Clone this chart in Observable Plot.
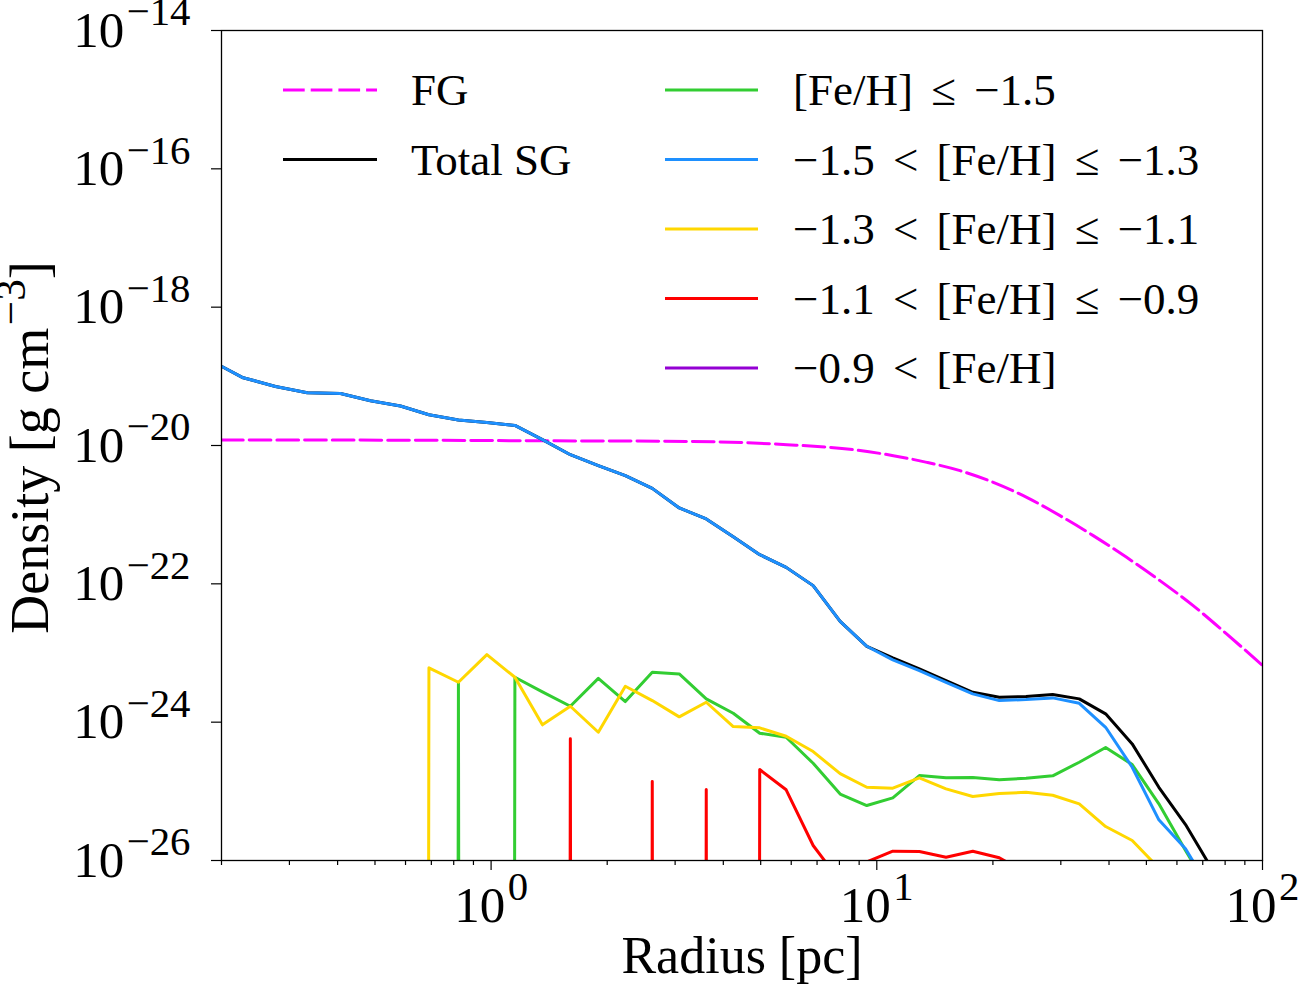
<!DOCTYPE html>
<html>
<head>
<meta charset="utf-8">
<script src="https://cdn.jsdelivr.net/npm/d3@7"></script>
<script src="https://cdn.jsdelivr.net/npm/@observablehq/plot@0.6"></script>
<style>
  body { margin: 0; background: #fff; }
</style>
</head>
<body>
<div id="chart"></div>
<script>
// radius grid of the SG profiles [pc]
const radius = [0.201, 0.2264, 0.2761, 0.3337, 0.407, 0.4867, 0.5821, 0.69, 0.8228, 0.9752,
  1.1527, 1.3584, 1.605, 1.8967, 2.2285, 2.6173, 3.0748, 3.6127, 4.2443, 4.9712,
  5.821, 6.8391, 8.0353, 9.4214, 11.003, 12.894, 15.118, 17.735, 20.782, 24.37,
  28.58, 33.49, 39.2, 45.94, 53.86, 63.16, 73.9];

// log10 density [g cm^-3], null = empty bin (zero density)
const logTotal = [-18.861, -19.016, -19.146, -19.237, -19.247, -19.353, -19.429, -19.555, -19.631, -19.666,
  -19.71, -19.916, -20.133, -20.292, -20.436, -20.62, -20.903, -21.062, -21.318, -21.578,
  -21.762, -22.026, -22.542, -22.903, -23.07, -23.23, -23.399, -23.568, -23.64, -23.63,
  -23.601, -23.663, -23.88, -24.314, -24.941, -25.48, -26.12];
const logFe15 = [null, null, null, null, null, null, null, null, -23.423, null,
  -23.351, -23.562, -23.77, -23.366, -23.702, -23.279, -23.302, -23.663, -23.871, -24.16,
  -24.218, -24.594, -25.04, -25.205, -25.094, -24.772, -24.805, -24.801, -24.834, -24.811,
  -24.776, -24.579, -24.367, -24.613, -25.181, -25.855, -26.49];
const logFe13 = [-18.861, -19.016, -19.146, -19.237, -19.247, -19.353, -19.429, -19.555, -19.631, -19.666,
  -19.71, -19.916, -20.133, -20.292, -20.436, -20.62, -20.903, -21.062, -21.318, -21.578,
  -21.762, -22.026, -22.542, -22.903, -23.1, -23.254, -23.423, -23.591, -23.688, -23.673,
  -23.649, -23.727, -24.074, -24.652, -25.412, -25.831, -26.46];
const logFe11 = [null, null, null, null, null, null, null, -23.215, -23.423, -23.023,
  -23.351, -24.039, -23.77, -24.146, -23.481, -23.688, -23.923, -23.712, -24.064, -24.082,
  -24.204, -24.425, -24.745, -24.941, -24.955, -24.805, -24.964, -25.075, -25.032, -25.013,
  -25.056, -25.181, -25.509, -25.711, -26.11, null, null];
const logFe09 = [null, null, null, null, null, null, null, null, null, null,
  null, null, -24.241, null, null, -24.858, null, -24.974, null, -24.685,
  -24.978, -25.783, -26.3, -26.02, -25.866, -25.87, -25.952, -25.866, -25.961, -26.18,
  null, null, null, null, null, null, null];
const logFeHigh = [null, null, null, null, null, null, null, null, null, null,
  null, null, null, null, null, null, null, null, null, null,
  null, null, null, null, null, null, null, null, null, null,
  null, null, null, null, null, null, null];

// first generation profile
const fgRadius = [0.2, 0.58, 1.19, 3.22, 5.85, 8.7, 11.04, 13.48, 16.44, 20.05, 24.47, 29.85, 36.4, 44.43, 54.2, 66.1, 80.7, 100];
const fgLog = [-19.921, -19.923, -19.931, -19.941, -19.988, -20.061, -20.147, -20.244, -20.364, -20.533,
  -20.75, -21.014, -21.303, -21.617, -21.954, -22.315, -22.724, -23.18];

const xMajor = [1, 10, 100];
const xMinor = [0.2, 0.3, 0.4, 0.5, 0.6, 0.7, 0.8, 0.9, 2, 3, 4, 5, 6, 7, 8, 9, 20, 30, 40, 50, 60, 70, 80, 90];
const yMajor = [1e-26, 1e-24, 1e-22, 1e-20, 1e-18, 1e-16, 1e-14];

const fg = {label: "FG", color: "#ff00ff", dash: "21.7,6"};
const total = {label: "Total SG", color: "#000000", values: logTotal};
const bins = [
  {label: "[Fe/H] ≤ −1.5", color: "#32cd32", values: logFe15},
  {label: "−1.5 < [Fe/H] ≤ −1.3", color: "#1e90ff", values: logFe13},
  {label: "−1.3 < [Fe/H] ≤ −1.1", color: "#ffd700", values: logFe11},
  {label: "−1.1 < [Fe/H] ≤ −0.9", color: "#ff0000", values: logFe09},
  {label: "−0.9 < [Fe/H]", color: "#9400d3", values: logFeHigh}
];

// zero density is pushed far below the axis, like a clipped log axis
const toRho = v => v == null ? 1e-300 : 10 ** v;
const rowsOf = s => radius.map((r, i) => ({r, rho: toRho(s.values[i])}));
const fgRows = fgRadius.map((r, i) => ({r, rho: 10 ** fgLog[i]}));

const minus = n => String(n).replace("-", "\u2212");
const serif = "'Liberation Serif', 'Times New Roman', serif";

const chart = Plot.plot({
  width: 1300,
  height: 1000,
  marginLeft: 221,
  marginRight: 38,
  marginTop: 30,
  marginBottom: 140,
  style: {fontFamily: serif, background: "white", color: "black"},
  x: {type: "log", domain: [0.2, 100], label: null},
  y: {type: "log", domain: [1e-26, 1e-14], label: null},
  marks: [
    Plot.line(fgRows, {x: "r", y: "rho", stroke: fg.color, strokeWidth: 3, strokeDasharray: fg.dash, curve: "monotone-x", clip: true}),
    ...[total, ...bins].map(s =>
      Plot.line(rowsOf(s), {x: "r", y: "rho", stroke: s.color, strokeWidth: 3, clip: true})
    ),
    Plot.frame({stroke: "black", strokeWidth: 1.3}),
    Plot.axisX({ticks: xMinor, tickSize: 5, strokeWidth: 1.2, tickFormat: () => "", label: null}),
    Plot.axisX({ticks: xMajor, tickSize: 10, tickPadding: 15, strokeWidth: 1.2, fontSize: 51,
      tickFormat: d => `10^{${minus(Math.round(Math.log10(d)))}}`, label: null}),
    Plot.axisY({ticks: yMajor, tickSize: 10, tickPadding: 21, strokeWidth: 1.2, fontSize: 51,
      tickFormat: d => `10^{${minus(Math.round(Math.log10(d)))}}`, label: null}),
    Plot.text(["Radius [pc]"], {frameAnchor: "bottom", lineAnchor: "middle", dy: 96, fontSize: 52, text: d => d}),
    Plot.text(["Density [g cm^{\u22123}]"], {frameAnchor: "left", lineAnchor: "middle", textAnchor: "middle",
      rotate: -90, dx: -191, dy: 2, fontSize: 54, text: d => d})
  ]
});

document.getElementById("chart").append(chart);

// turn "a^{b}" into a raised tspan
function supify(node) {
  const s = node.textContent;
  if (!s.includes("^{")) return;
  const size = parseFloat(getComputedStyle(node).fontSize);
  const rise = 0.42 * size;
  const parts = s.split(/\^\{([^}]*)\}/);
  const t = d3.select(node).text(null);
  let up = false;
  parts.forEach((p, i) => {
    if (p === "") return;
    const span = t.append("tspan").text(p);
    if (i % 2 === 1) {
      span.attr("font-size", 0.8 * size).attr("dy", -rise).attr("dx", 0.05 * size);
      up = true;
    } else if (up) {
      span.attr("dy", rise);
      up = false;
    }
  });
}
d3.select(chart).selectAll("text").each(function () { supify(this); });

// legend, two columns inside the frame
const svg = d3.select(chart);
const legend = svg.append("g")
  .attr("font-family", serif)
  .attr("font-size", 45)
  .attr("text-anchor", "start")
  .attr("fill", "black");
const cols = [
  {x0: 283, x1: 377, tx: 411, items: [fg, total]},
  {x0: 665, x1: 758, tx: 793, items: bins}
];
const rowTop = 90, rowStep = 69.5;
cols.forEach(c => {
  c.items.forEach((s, i) => {
    const y = rowTop + i * rowStep;
    legend.append("line")
      .attr("x1", c.x0).attr("x2", c.x1).attr("y1", y).attr("y2", y)
      .attr("stroke", s.color).attr("stroke-width", 3)
      .attr("stroke-dasharray", s.dash || null);
    legend.append("text")
      .attr("x", c.tx).attr("y", y).attr("dy", "0.34em")
      .style("word-spacing", s.label.includes("[") ? "7px" : null)
      .text(s.label);
  });
});
</script>
</body>
</html>
